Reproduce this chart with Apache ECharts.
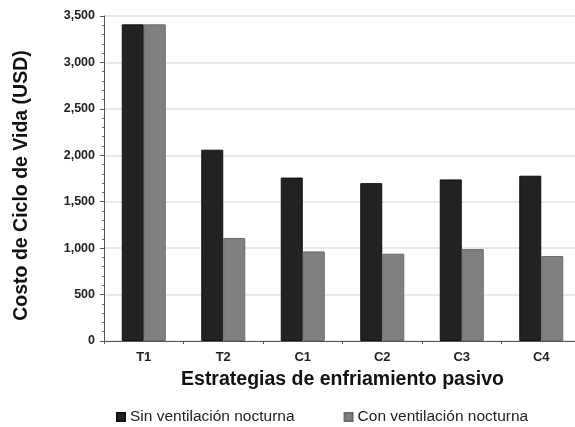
<!DOCTYPE html>
<html>
<head>
<meta charset="utf-8">
<script src="https://cdn.jsdelivr.net/npm/echarts@6/dist/echarts.min.js"></script>
<style>
  html, body { margin: 0; padding: 0; background: #fff; }
  #chart { width: 575px; height: 427px; }
</style>
</head>
<body>
<div id="chart"></div>
<script>
// Passive cooling strategies and their life-cycle cost (USD)
const categories = ['T1', 'T2', 'C1', 'C2', 'C3', 'C4'];
const sinVentilacion = [3410, 2060, 1760, 1700, 1740, 1780];
const conVentilacion = [3410, 1110, 965, 940, 990, 915];
const seriesNames = ['Sin ventilación nocturna', 'Con ventilación nocturna'];
const yTicks = { min: 0, max: 3500, interval: 500 };

const font = 'Liberation Sans, Arial, sans-serif';
const chart = echarts.init(document.getElementById('chart'));

chart.setOption({
  animation: false,
  backgroundColor: '#fff',
  // the plot runs slightly past the right edge of the canvas
  grid: {
    left: 104, top: 16, width: 477, height: 325,
    containLabel: false, outerBoundsMode: 'none'
  },
  legend: {
    left: 111,
    top: 404,
    itemWidth: 8,
    itemHeight: 8,
    itemGap: 49,
    icon: 'rect',
    textStyle: { fontFamily: font, fontSize: 15.5, color: '#222' },
    data: seriesNames
  },
  xAxis: {
    type: 'category',
    data: categories,
    name: 'Estrategias de enfriamiento pasivo',
    nameLocation: 'middle',
    nameGap: 29,
    nameTextStyle: { fontFamily: font, fontSize: 19.5, fontWeight: 'bold', color: '#111' },
    axisLine: { lineStyle: { color: '#555', width: 1 } },
    axisTick: { show: true, length: 3, lineStyle: { color: '#555' } },
    axisLabel: { fontFamily: font, fontSize: 13, fontWeight: 'bold', color: '#222', margin: 10 }
  },
  yAxis: {
    type: 'value',
    min: yTicks.min,
    max: yTicks.max,
    interval: yTicks.interval,
    name: 'Costo de Ciclo de Vida (USD)',
    nameLocation: 'middle',
    nameGap: 72,
    nameTextStyle: {
      fontFamily: font, fontSize: 19.5, fontWeight: 'bold', color: '#111',
      padding: [0, 14, 0, 0]
    },
    axisLine: { show: true, lineStyle: { color: '#555', width: 1 } },
    axisTick: { show: true, length: 4, lineStyle: { color: '#555' } },
    minorTick: { show: true, splitNumber: 5, length: 2, lineStyle: { color: '#777' } },
    splitLine: { show: true, lineStyle: { color: '#e9e9e9', width: 2 } },
    axisLabel: {
      fontFamily: font, fontSize: 12.5, fontWeight: 'bold', color: '#222', margin: 9,
      formatter: v => v.toLocaleString('en-US')
    }
  },
  series: [
    {
      name: seriesNames[0],
      type: 'bar',
      data: sinVentilacion,
      barWidth: 22,
      barGap: '0%',
      itemStyle: { color: '#222222', borderColor: '#111', borderWidth: 1 }
    },
    {
      name: seriesNames[1],
      type: 'bar',
      data: conVentilacion,
      barWidth: 22,
      itemStyle: { color: '#808080', borderColor: '#6a6a6a', borderWidth: 1 }
    }
  ]
});
</script>
</body>
</html>
